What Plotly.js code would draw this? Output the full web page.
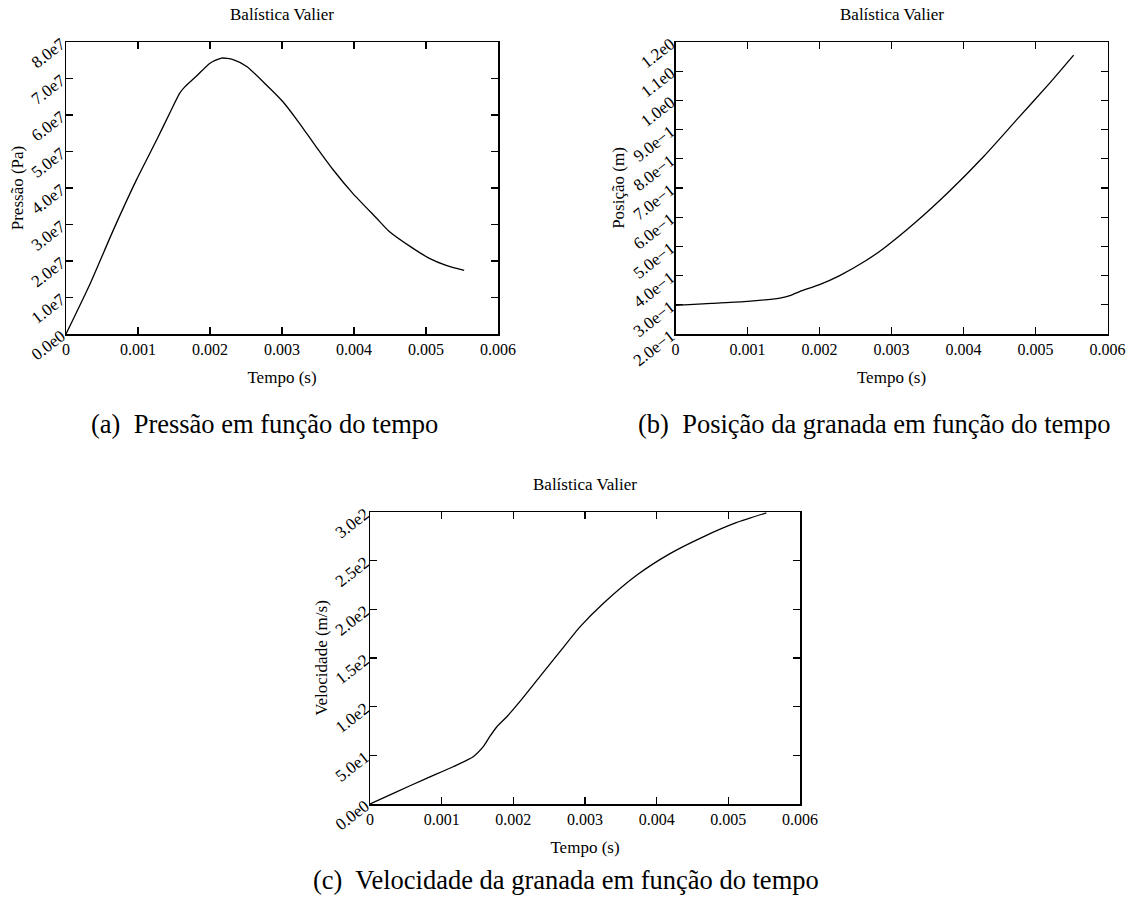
<!DOCTYPE html>
<html>
<head>
<meta charset="utf-8">
<script src="https://cdn.plot.ly/plotly-3.0.1.min.js"></script>
<style>html,body{margin:0;padding:0;background:#fff;}#chart{width:1136px;height:903px;}</style>
</head>
<body>
<div id="chart"></div>
<script>
// ---- data ----
const timeTicks = [0, 0.001, 0.002, 0.003, 0.004, 0.005, 0.006];
const timeTickText = ["0", "0.001", "0.002", "0.003", "0.004", "0.005", "0.006"];

const timeA = [0, 0.00034, 0.00066, 0.00098, 0.00126, 0.00144, 0.00158, 0.00165, 0.00181, 0.0020, 0.00216, 0.00232, 0.00251, 0.00278, 0.00301, 0.00324, 0.00347, 0.00371, 0.00398, 0.00431, 0.00449, 0.00481, 0.00504, 0.00528, 0.00553];
const pressure = [0, 1.40e7, 2.86e7, 4.23e7, 5.32e7, 6.05e7, 6.60e7, 6.77e7, 7.06e7, 7.42e7, 7.56e7, 7.52e7, 7.33e7, 6.83e7, 6.37e7, 5.78e7, 5.14e7, 4.50e7, 3.86e7, 3.18e7, 2.81e7, 2.36e7, 2.08e7, 1.88e7, 1.74e7];
const pressureTicks = [0, 1e7, 2e7, 3e7, 4e7, 5e7, 6e7, 7e7, 8e7];
const pressureTickText = ["0.0e0", "1.0e7", "2.0e7", "3.0e7", "4.0e7", "5.0e7", "6.0e7", "7.0e7", "8.0e7"];

const timeB = [0, 0.0005, 0.001, 0.00145, 0.0016, 0.00173, 0.002, 0.00228, 0.00263, 0.00289, 0.00335, 0.0038, 0.00428, 0.00474, 0.0052, 0.00553];
const position = [0.298, 0.305, 0.312, 0.323, 0.332, 0.346, 0.369, 0.400, 0.449, 0.493, 0.586, 0.688, 0.808, 0.934, 1.060, 1.155];
const positionTicks = [0.2, 0.3, 0.4, 0.5, 0.6, 0.7, 0.8, 0.9, 1.0, 1.1, 1.2];
const positionTickText = ["2.0e\u22121", "3.0e\u22121", "4.0e\u22121", "5.0e\u22121", "6.0e\u22121", "7.0e\u22121", "8.0e\u22121", "9.0e\u22121", "1.0e0", "1.1e0", "1.2e0"];

const timeC = [0, 0.000325, 0.00079, 0.00116, 0.00144, 0.00158, 0.00167, 0.00177, 0.00191, 0.00209, 0.00237, 0.00265, 0.00293, 0.003254, 0.00372, 0.00418, 0.00465, 0.00511, 0.00553];
const velocity = [0, 11.0, 26.4, 38.3, 48.6, 58.9, 69.1, 79.4, 89.7, 105.1, 130.8, 156.5, 182.0, 206, 235, 257, 274.5, 289, 299];
const velocityTicks = [0, 50, 100, 150, 200, 250, 300];
const velocityTickText = ["0.0e0", "5.0e1", "1.0e2", "1.5e2", "2.0e2", "2.5e2", "3.0e2"];

const plotTitle = "Balística Valier";
const xTitle = "Tempo (s)";
const yTitles = ["Pressão (Pa)", "Posição (m)", "Velocidade (m/s)"];
const captions = ["(a)  Pressão em função do tempo", "(b)  Posição da granada em função do tempo", "(c)  Velocidade da granada em função do tempo"];

// ---- layout ----
const W = 1136, H = 903;
const serif = "Liberation Serif";
function px(x) { return x / W; }
function py(y) { return 1 - y / H; }

const boxes = [
  {l: 66, r: 498, t: 42, b: 334},
  {l: 675.5, r: 1107.5, t: 42, b: 334},
  {l: 370, r: 800, t: 512, b: 804}
];

function xaxisDef(i) {
  const b = boxes[i];
  return {
    domain: [px(b.l), px(b.r)], range: [0, 0.006], anchor: i === 0 ? 'y' : 'y' + (i + 1),
    tickvals: timeTicks, ticktext: timeTickText,
    ticks: 'inside', ticklen: 7, tickwidth: 1.3, tickcolor: '#000',
    showline: true, linecolor: '#000', linewidth: 1.5, mirror: 'ticks',
    showgrid: false, zeroline: false,
    tickfont: {family: serif, size: 16, color: '#000'},
    title: {text: xTitle, font: {family: serif, size: 17, color: '#000'}, standoff: 14}
  };
}
function yaxisDef(i, range, vals, text) {
  const b = boxes[i];
  return {
    domain: [py(b.b), py(b.t)], range: range, anchor: i === 0 ? 'x' : 'x' + (i + 1),
    tickvals: vals, ticktext: text, tickangle: -38,
    ticks: 'inside', ticklen: 7, tickwidth: 1.3, tickcolor: '#000',
    showline: true, linecolor: '#000', linewidth: 1.5, mirror: 'ticks',
    showgrid: false, zeroline: false,
    tickfont: {family: serif, size: 17, color: '#000'},
    title: {text: yTitles[i], font: {family: serif, size: 17, color: '#000'}, standoff: 0}
  };
}

const lineStyle = {color: '#000', width: 1.3, shape: 'spline', smoothing: 0.6};
const data = [
  {x: timeA, y: pressure, type: 'scatter', mode: 'lines', line: lineStyle, xaxis: 'x', yaxis: 'y', hoverinfo: 'none'},
  {x: timeB, y: position, type: 'scatter', mode: 'lines', line: lineStyle, xaxis: 'x2', yaxis: 'y2', hoverinfo: 'none'},
  {x: timeC, y: velocity, type: 'scatter', mode: 'lines', line: lineStyle, xaxis: 'x3', yaxis: 'y3', hoverinfo: 'none'}
];

const annotations = [];
boxes.forEach((b, i) => {
  annotations.push({text: plotTitle, xref: 'paper', yref: 'paper', x: px((b.l + b.r) / 2), y: py(b.t - 28),
    showarrow: false, xanchor: 'center', yanchor: 'middle', font: {family: serif, size: 17, color: '#000'}});
});
const capPos = [[264, 424], [874, 424], [566, 880]];
captions.forEach((c, i) => {
  annotations.push({text: c, xref: 'paper', yref: 'paper', x: px(capPos[i][0]), y: py(capPos[i][1]),
    showarrow: false, xanchor: 'center', yanchor: 'middle', font: {family: serif, size: 26.5, color: '#000'}});
});

const layout = {
  width: W, height: H, margin: {l: 0, r: 0, t: 0, b: 0},
  paper_bgcolor: '#fff', plot_bgcolor: '#fff', showlegend: false,
  xaxis: xaxisDef(0), xaxis2: xaxisDef(1), xaxis3: xaxisDef(2),
  yaxis: yaxisDef(0, [0, 8e7], pressureTicks, pressureTickText),
  yaxis2: yaxisDef(1, [0.2, 1.2], positionTicks, positionTickText),
  yaxis3: yaxisDef(2, [0, 300], velocityTicks, velocityTickText),
  annotations: annotations
};

Plotly.newPlot('chart', data, layout, {staticPlot: true, displayModeBar: false});
</script>
</body>
</html>
